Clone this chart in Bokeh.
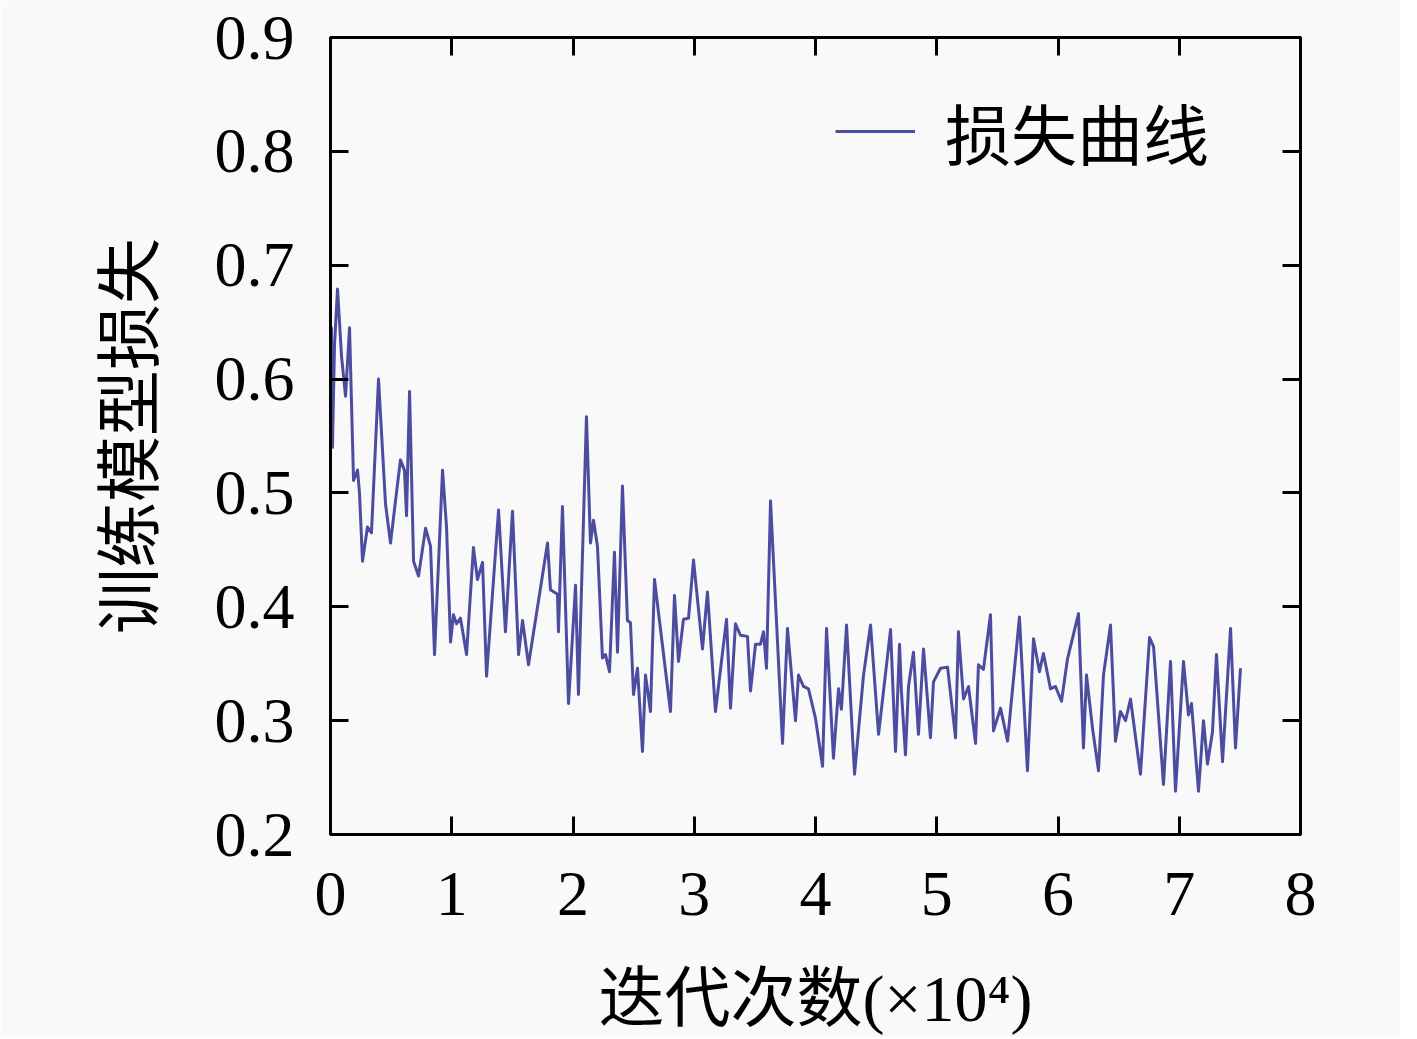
from bokeh.plotting import figure
from bokeh.models import LinearAxis, FixedTicker, Legend, LegendItem, Range1d
from bokeh.embed import file_html
from bokeh.resources import INLINE

# iterations (x 10^4) and training loss
iters = [0.000, 0.008, 0.016, 0.033, 0.058, 0.091, 0.124, 0.157, 0.190, 0.223,
         0.239, 0.264, 0.305, 0.338, 0.396, 0.454, 0.495, 0.544, 0.577, 0.610,
         0.627, 0.652, 0.685, 0.726, 0.784, 0.825, 0.858, 0.924, 0.957, 0.990,
         1.014, 1.039, 1.072, 1.122, 1.179, 1.212, 1.254, 1.287, 1.386, 1.443,
         1.501, 1.551, 1.584, 1.633, 1.790, 1.814, 1.872, 1.880, 1.913, 1.963,
         2.021, 2.045, 2.111, 2.144, 2.169, 2.202, 2.243, 2.268, 2.301, 2.342,
         2.367, 2.408, 2.449, 2.474, 2.499, 2.532, 2.573, 2.598, 2.639, 2.672,
         2.804, 2.837, 2.870, 2.911, 2.953, 2.994, 3.068, 3.109, 3.175, 3.266,
         3.299, 3.340, 3.381, 3.439, 3.464, 3.505, 3.546, 3.571, 3.596, 3.629,
         3.728, 3.769, 3.835, 3.860, 3.901, 3.942, 4.000, 4.058, 4.091, 4.148,
         4.190, 4.214, 4.256, 4.322, 4.396, 4.454, 4.520, 4.619, 4.660, 4.693,
         4.709, 4.742, 4.767, 4.808, 4.849, 4.891, 4.948, 4.973, 5.031, 5.089,
         5.155, 5.179, 5.221, 5.262, 5.320, 5.344, 5.385, 5.443, 5.468, 5.526,
         5.584, 5.682, 5.748, 5.798, 5.847, 5.880, 5.938, 5.979, 6.029, 6.078,
         6.169, 6.210, 6.235, 6.285, 6.334, 6.375, 6.433, 6.474, 6.515, 6.557,
         6.598, 6.680, 6.755, 6.788, 6.870, 6.928, 6.969, 7.035, 7.076, 7.101,
         7.159, 7.200, 7.233, 7.274, 7.307, 7.357, 7.423, 7.464, 7.505]

loss = [0.600, 0.645, 0.540, 0.630, 0.679, 0.620, 0.585, 0.645, 0.511, 0.520,
        0.500, 0.440, 0.470, 0.465, 0.600, 0.490, 0.456, 0.500, 0.529, 0.520,
        0.480, 0.589, 0.440, 0.427, 0.469, 0.453, 0.358, 0.520, 0.470, 0.369,
        0.393, 0.385, 0.390, 0.358, 0.452, 0.424, 0.439, 0.339, 0.485, 0.378,
        0.484, 0.358, 0.388, 0.349, 0.456, 0.415, 0.411, 0.378, 0.488, 0.315,
        0.419, 0.323, 0.567, 0.456, 0.476, 0.453, 0.355, 0.358, 0.343, 0.448,
        0.360, 0.506, 0.388, 0.386, 0.323, 0.346, 0.273, 0.340, 0.308, 0.424,
        0.308, 0.410, 0.352, 0.389, 0.390, 0.441, 0.363, 0.413, 0.308, 0.389,
        0.311, 0.385, 0.375, 0.374, 0.326, 0.367, 0.367, 0.378, 0.346, 0.493,
        0.280, 0.381, 0.300, 0.340, 0.330, 0.328, 0.302, 0.260, 0.381, 0.267,
        0.328, 0.310, 0.384, 0.253, 0.340, 0.384, 0.288, 0.380, 0.273, 0.367,
        0.325, 0.270, 0.330, 0.360, 0.288, 0.363, 0.285, 0.334, 0.346, 0.347,
        0.285, 0.378, 0.319, 0.330, 0.280, 0.349, 0.345, 0.393, 0.291, 0.311,
        0.282, 0.391, 0.256, 0.372, 0.343, 0.359, 0.328, 0.330, 0.317, 0.354,
        0.394, 0.276, 0.340, 0.293, 0.256, 0.340, 0.384, 0.282, 0.308, 0.300,
        0.319, 0.253, 0.373, 0.365, 0.244, 0.352, 0.238, 0.352, 0.305, 0.315,
        0.238, 0.300, 0.262, 0.290, 0.358, 0.264, 0.381, 0.276, 0.346]

x_ticks = [0, 1, 2, 3, 4, 5, 6, 7, 8]
y_ticks = [0.2, 0.3, 0.4, 0.5, 0.6, 0.7, 0.8, 0.9]
x_title = "迭代次数(×10⁴)"
y_title = "训练模型损失"
legend_label = "损失曲线"

BG = "#f9f9f9"
SERIF = "'Liberation Serif', 'Noto Sans CJK SC'"
CJK = "'Noto Sans CJK SC'"

p = figure(frame_width=970, frame_height=797,
           x_range=Range1d(0, 8), y_range=Range1d(0.2, 0.9),
           output_backend="svg", toolbar_location=None,
           background_fill_color=BG, border_fill_color=BG,
           min_border_left=330, min_border_right=100,
           min_border_top=37, min_border_bottom=190)
p.grid.visible = False
p.outline_line_color = "black"
p.outline_line_width = 3


def style_axis(ax, ticks, show_labels):
    ax.ticker = FixedTicker(ticks=ticks)
    ax.axis_line_color = "black"
    ax.axis_line_width = 3
    ax.major_tick_line_color = "black"
    ax.major_tick_line_width = 3
    ax.major_tick_in = 18
    ax.major_tick_out = 0
    ax.minor_tick_line_color = None
    ax.major_label_text_font = SERIF
    ax.major_label_text_color = "black"
    ax.major_label_text_font_size = "64px"
    if not show_labels:
        ax.major_label_overrides = {t: "" for t in ticks}
        ax.major_label_standoff = 0


style_axis(p.xaxis[0], x_ticks, True)
style_axis(p.yaxis[0], y_ticks, True)
p.xaxis[0].major_label_standoff = 38
p.yaxis[0].major_label_standoff = 36

p.xaxis[0].axis_label = x_title
p.xaxis[0].axis_label_text_font = SERIF
p.xaxis[0].axis_label_text_font_size = "66px"
p.xaxis[0].axis_label_text_font_style = "normal"
p.xaxis[0].axis_label_text_color = "black"
p.xaxis[0].axis_label_standoff = 44

p.yaxis[0].axis_label = y_title
p.yaxis[0].axis_label_text_font = CJK
p.yaxis[0].axis_label_text_font_size = "66px"
p.yaxis[0].axis_label_text_font_style = "normal"
p.yaxis[0].axis_label_text_color = "black"
p.yaxis[0].axis_label_standoff = 40

top_ax = LinearAxis()
style_axis(top_ax, x_ticks, False)
p.add_layout(top_ax, "above")
right_ax = LinearAxis()
style_axis(right_ax, y_ticks, False)
p.add_layout(right_ax, "right")

r = p.line(iters, loss, line_color="#42429c", line_width=3, line_alpha=0.95,
           line_join="round")

legend = Legend(items=[LegendItem(label=legend_label, renderers=[r])],
                location=(505, 655), glyph_width=80, glyph_height=40,
                label_standoff=30, padding=0, spacing=0, margin=0,
                border_line_color=None, background_fill_alpha=0,
                label_text_font=CJK, label_text_font_size="66px",
                label_text_color="black")
p.add_layout(legend)

open("out.html", "w").write(file_html(p, INLINE))
